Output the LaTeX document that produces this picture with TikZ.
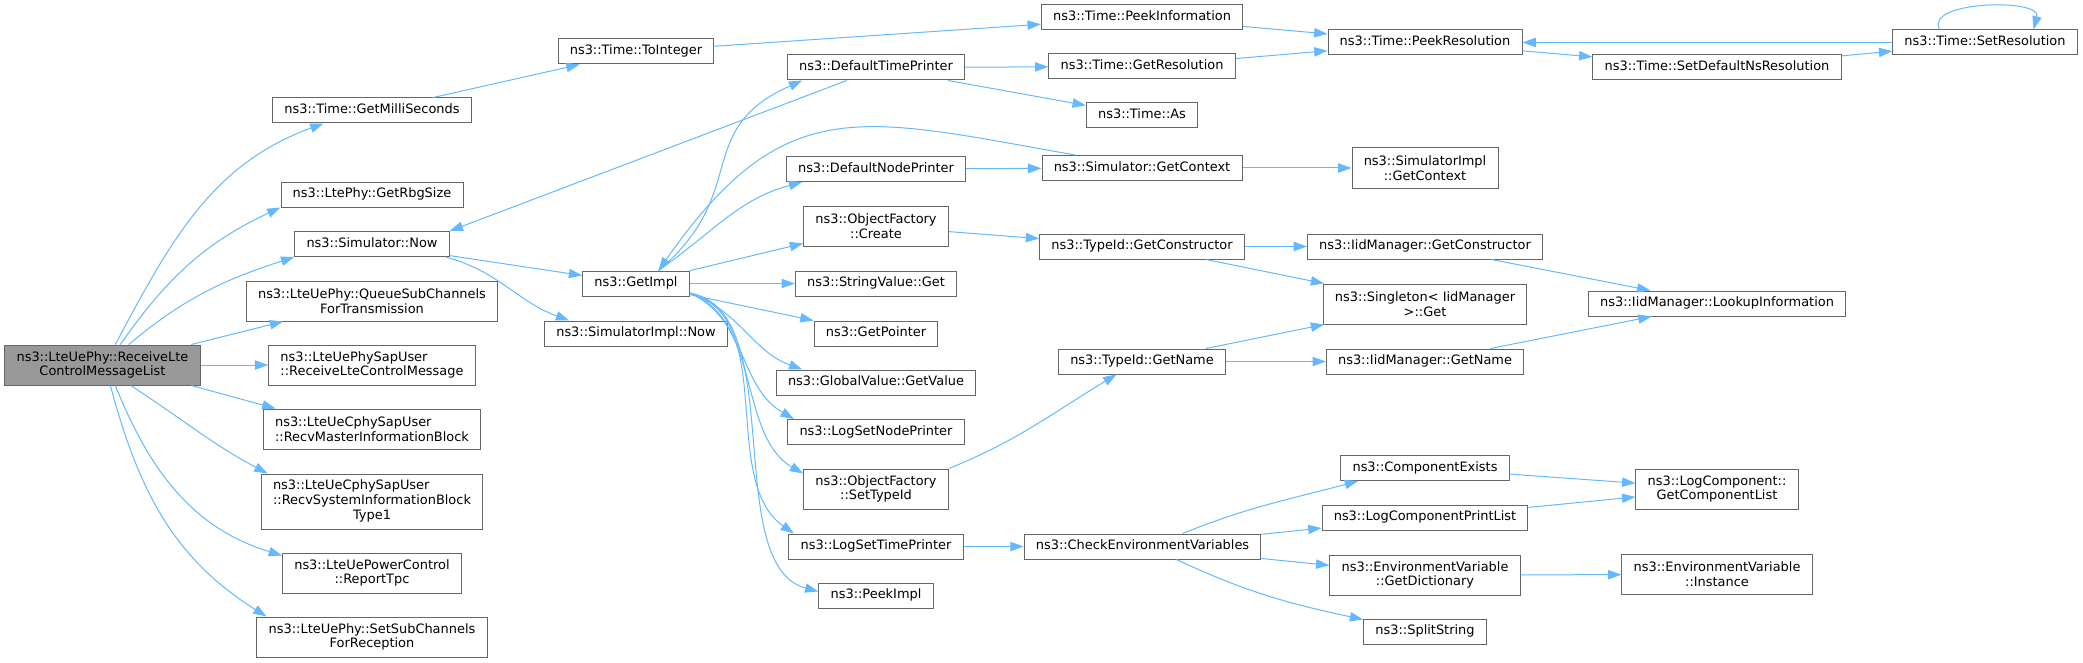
\documentclass[tikz,border=0pt]{standalone}
\usepackage{fontspec}
\setmainfont{DejaVu Sans}
\usepackage{tikz}
\usetikzlibrary{positioning,arrows.meta}
\tikzset{llamada/.style={draw=azulllamada, line width=0.75pt, -{Triangle[length=10pt,width=7pt]}}}
\definecolor{azulllamada}{HTML}{63B8FF}
\definecolor{grisborde}{HTML}{666666}
\definecolor{grisnodo}{HTML}{999999}
\newcommand{\letranodo}{\fontsize{9.7pt}{11pt}\selectfont}

\begin{document}
\begin{tikzpicture}[x=0.75pt, y=0.75pt, every node/.style={draw=grisborde, line width=0.75pt, fill=white, rectangle, font=\letranodo, inner xsep=8.8pt, inner ysep=2pt, minimum height=18.75pt, text height=7.4pt, text depth=2.3pt}, dos/.style={align=center, text height=, text depth=, minimum height=30pt}, tres/.style={text height=, text depth=, minimum height=41.25pt}]
            \useasboundingbox (0,0) rectangle (2083,-663);

            \node[fill=grisnodo, dos] (1) at (102.5,-365) {ns3::LteUePhy::ReceiveLte\\ControlMessageList};
            \node (2) at (372,-110.5) {ns3::Time::GetMilliSeconds};
            \node (3) at (372,-194.5) {ns3::LtePhy::GetRbgSize};
            \node (4) at (372,-244) {ns3::Simulator::Now};
            \node[dos] (5) at (372,-301) {ns3::LteUePhy::QueueSubChannels\\ForTransmission};
            \node[dos, align=left] (6) at (372,-365) {ns3::LteUePhySapUser\\::ReceiveLteControlMessage};
            \node[dos, align=left] (7) at (372,-429) {ns3::LteUeCphySapUser\\::RecvMasterInformationBlock};
            \node[tres] (8) at (372,-501.5) {\begin{tabular}{@{}l@{}}ns3::LteUeCphySapUser\\::RecvSystemInformationBlock\\\multicolumn{1}{@{}c@{}}{Type1}\end{tabular}};
            \node[dos] (9) at (372,-573) {ns3::LteUePowerControl\\::ReportTpc};
            \node[dos] (10) at (372,-637) {ns3::LteUePhy::SetSubChannels\\ForReception};

            \node (11) at (636,-51.5) {ns3::Time::ToInteger};
            \node (15) at (636,-283.5) {ns3::GetImpl};
            \node (18) at (636,-333.5) {ns3::SimulatorImpl::Now};

            \node (12) at (876,-67.5) {ns3::DefaultTimePrinter};
            \node (13) at (876,-169) {ns3::DefaultNodePrinter};
            \node[dos] (14) at (876,-226) {ns3::ObjectFactory\\::Create};
            \node (16) at (876,-283.5) {ns3::StringValue::Get};
            \node (17) at (876,-333.5) {ns3::GetPointer};
            \node (19) at (876,-382.5) {ns3::GlobalValue::GetValue};
            \node (20) at (876,-432) {ns3::LogSetNodePrinter};
            \node[dos] (21) at (876,-489) {ns3::ObjectFactory\\::SetTypeId};
            \node (22) at (876,-546.5) {ns3::LogSetTimePrinter};
            \node (23) at (876,-595.5) {ns3::PeekImpl};

            \node (24) at (1142,-17.5) {ns3::Time::PeekInformation};
            \node (25) at (1142,-66.5) {ns3::Time::GetResolution};
            \node (26) at (1142,-115.5) {ns3::Time::As};
            \node (27) at (1142,-168) {ns3::Simulator::GetContext};
            \node (28) at (1142,-246.5) {ns3::TypeId::GetConstructor};
            \node (29) at (1142,-361.5) {ns3::TypeId::GetName};
            \node (30) at (1142.5,-546.5) {ns3::CheckEnvironmentVariables};

            \node (31) at (1425,-42.5) {ns3::Time::PeekResolution};
            \node[dos] (32) at (1425,-168) {ns3::SimulatorImpl\\::GetContext};
            \node (33) at (1425,-246.5) {ns3::IidManager::GetConstructor};
            \node[dos] (34) at (1425,-304) {ns3::Singleton< IidManager\\>::Get};
            \node (35) at (1425,-361.5) {ns3::IidManager::GetName};
            \node (36) at (1425,-468) {ns3::ComponentExists};
            \node (37) at (1425,-517.5) {ns3::LogComponentPrintList};
            \node[dos] (38) at (1425,-575) {ns3::EnvironmentVariable\\::GetDictionary};
            \node (39) at (1425,-631.5) {ns3::SplitString};

            \node (40) at (1717,-67.5) {ns3::Time::SetDefaultNsResolution};
            \node (41) at (1717,-303.5) {ns3::IidManager::LookupInformation};
            \node[dos] (42) at (1717,-489) {ns3::LogComponent::\\GetComponentList};
            \node[dos] (43) at (1717,-574.5) {ns3::EnvironmentVariable\\::Instance};
            \node (44) at (1985,-42.5) {ns3::Time::SetResolution};

            \draw[llamada] (1.58) to[out=62,in=200] (2.195);
            \draw[llamada] (1.49) to[out=55,in=205] (3.south west);
            \draw[llamada] (1.38) to[out=40,in=198] (4.south west);
            \draw[llamada] (1.13) -- (5.193);
            \draw[llamada] (1) -- (6);
            \draw[llamada] (1.-13) -- (7.168);
            \draw[llamada] (1.-36) to[out=-33,in=152] (8.165);
            \draw[llamada] (1.-58) to[out=-68,in=163] (9.169);
            \draw[llamada] (1.-69) to[out=-75,in=148] (10.169);

            \draw[llamada] (2.12) -- (11.193);
            \draw[llamada] (11) -- (24);
            \draw[llamada] (4) -- (15);
            \draw[llamada] (4.-10) to[out=-15,in=160] (18.169);
            \draw[llamada] (12.204) -- (4.north east);
            \draw[llamada] (15.30) to[out=40,in=204,looseness=1.3] (12.190);
            \draw[llamada] (15.30) to[out=35,in=195] (13.190);
            \draw[llamada] (27.169) to[out=170,in=55,looseness=1.3] (15.30);
            \draw[llamada] (15) -- (14);
            \draw[llamada] (15) -- (16);
            \draw[llamada] (15) -- (17);
            \draw[llamada] (15.-10) to[out=-20,in=160] (19.170);
            \draw[llamada] (15.-10) to[out=-25,in=150] (20.171);
            \draw[llamada] (15.-10) to[out=-20,in=150,looseness=0.9] (21.168);
            \draw[llamada] (15.-10) to[out=-15,in=145,looseness=0.9] (22.171);
            \draw[llamada] (15.-10) to[out=-10,in=165,looseness=0.8] (23.176);

            \draw[llamada] (12) -- (25);
            \draw[llamada] (12) -- (26);
            \draw[llamada] (13) -- (27);
            \draw[llamada] (14) -- (28);
            \draw[llamada] (21.north east) to[out=22,in=211] (29.207);
            \draw[llamada] (22) -- (30);

            \draw[llamada] (24) -- (31);
            \draw[llamada] (25) -- (31);
            \draw[llamada] (27) -- (32);
            \draw[llamada] (28) -- (33);
            \draw[llamada] (28) -- (34);
            \draw[llamada] (29) -- (34);
            \draw[llamada] (29) -- (35);
            \draw[llamada] (30.18) to[out=22,in=195] (36.191);
            \draw[llamada] (30) -- (37);
            \draw[llamada] (30) -- (38);
            \draw[llamada] (30.-21) to[out=-25,in=168] (39.169);

            \draw[llamada] (31) -- (40);
            \draw[llamada] (44) -- (31);
            \draw[llamada] (40) -- (44);
            \draw[llamada] (44.164) to[out=120,in=75,looseness=0.9] (44.15);
            \draw[llamada] (33) -- (41);
            \draw[llamada] (35) -- (41);
            \draw[llamada] (36) -- (42);
            \draw[llamada] (37) -- (42);
            \draw[llamada] (38) -- (43);
        \end{tikzpicture}
\end{document}
